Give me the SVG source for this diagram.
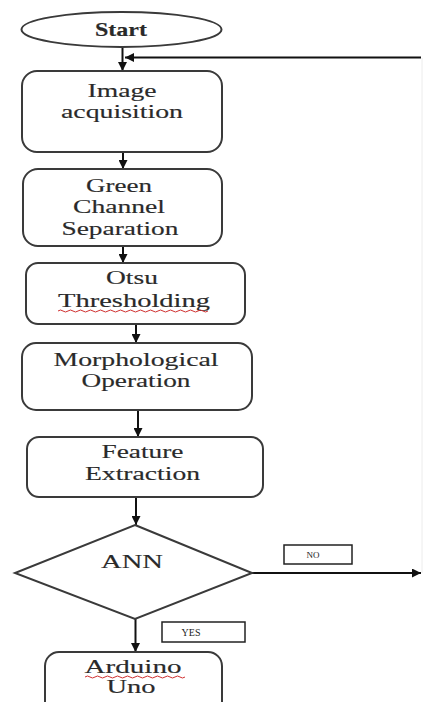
<svg xmlns="http://www.w3.org/2000/svg" width="423" height="702" viewBox="0 0 423 702">
<defs>
<marker id="ah2" viewBox="0 0 10 10" refX="10" refY="5" markerWidth="9" markerHeight="9" orient="auto" markerUnits="userSpaceOnUse"><path d="M0,0 L10,5 L0,10 z" fill="#111"/></marker>
</defs>
<style>
.b{fill:#fff;stroke:#3a3a3a;stroke-width:2}
.t{font-family:"Liberation Serif","Times New Roman",serif;font-size:19px;fill:#2a2a2a;text-anchor:middle;stroke:#2a2a2a;stroke-width:0.15}
.s{font-family:"Liberation Serif","Times New Roman",serif;fill:#222;text-anchor:middle}
.c{fill:none;stroke:#111;stroke-width:2}
.w{fill:none;stroke:#d03030;stroke-width:1}
</style>
<rect width="423" height="702" fill="#fff"/>
<g id="connectors">
<line class="c" x1="122.5" y1="47" x2="122.5" y2="71" marker-end="url(#ah2)"/>
<line class="c" x1="421" y1="57.5" x2="125" y2="57.5" marker-end="url(#ah2)"/>
<line x1="422" y1="58" x2="422" y2="573" stroke="#ececec" stroke-width="1"/>
<line class="c" x1="123" y1="152" x2="123" y2="169" marker-end="url(#ah2)"/>
<line class="c" x1="123" y1="246" x2="123" y2="263" marker-end="url(#ah2)"/>
<line class="c" x1="136" y1="324" x2="136" y2="343" marker-end="url(#ah2)"/>
<line class="c" x1="138" y1="410" x2="138" y2="437" marker-end="url(#ah2)"/>
<line class="c" x1="136" y1="497" x2="136" y2="525" marker-end="url(#ah2)"/>
<line class="c" x1="252" y1="573" x2="421" y2="573" marker-end="url(#ah2)"/>
<line class="c" x1="135.5" y1="619" x2="135.5" y2="652" marker-end="url(#ah2)"/>
</g>
<g id="start">
<ellipse class="b" cx="121.5" cy="29.5" rx="100" ry="17.5"/>
<text class="t" x="121" y="36" font-weight="bold" textLength="52" lengthAdjust="spacingAndGlyphs">Start</text>
</g>
<g id="image-acquisition">
<rect class="b" x="22" y="71" width="200" height="81" rx="15"/>
<text class="t" x="122" y="97" textLength="69" lengthAdjust="spacingAndGlyphs">Image</text>
<text class="t" x="122" y="118" textLength="122" lengthAdjust="spacingAndGlyphs">acquisition</text>
</g>
<g id="green-channel">
<rect class="b" x="23" y="169" width="199" height="77" rx="15"/>
<text class="t" x="119" y="192" textLength="66" lengthAdjust="spacingAndGlyphs">Green</text>
<text class="t" x="119" y="213" textLength="92" lengthAdjust="spacingAndGlyphs">Channel</text>
<text class="t" x="120" y="235" textLength="117" lengthAdjust="spacingAndGlyphs">Separation</text>
</g>
<g id="otsu">
<rect class="b" x="26" y="263" width="219" height="61" rx="12"/>
<text class="t" x="132" y="284" textLength="52" lengthAdjust="spacingAndGlyphs">Otsu</text>
<text class="t" x="134" y="307" textLength="152" lengthAdjust="spacingAndGlyphs">Thresholding</text>
<path class="w" d="M58 311 q2.5 -2 5 0 t5 0 t5 0 t5 0 t5 0 t5 0 t5 0 t5 0 t5 0 t5 0 t5 0 t5 0 t5 0 t5 0 t5 0 t5 0 t5 0 t5 0 t5 0 t5 0 t5 0 t5 0 t5 0 t5 0 t5 0 t5 0 t5 0 t5 0 t5 0 t5 0"/>
</g>
<g id="morphological">
<rect class="b" x="22" y="343" width="230" height="67" rx="14"/>
<text class="t" x="136" y="366" textLength="165" lengthAdjust="spacingAndGlyphs">Morphological</text>
<text class="t" x="136" y="387" textLength="109" lengthAdjust="spacingAndGlyphs">Operation</text>
</g>
<g id="feature-extraction">
<rect class="b" x="27" y="437" width="236" height="60" rx="12"/>
<text class="t" x="142.5" y="458" textLength="82" lengthAdjust="spacingAndGlyphs">Feature</text>
<text class="t" x="142.5" y="480" textLength="115" lengthAdjust="spacingAndGlyphs">Extraction</text>
</g>
<g id="ann">
<polygon class="b" points="135,525 252,573 135,619 15,573"/>
<text class="t" x="132" y="568" textLength="62" lengthAdjust="spacingAndGlyphs">ANN</text>
</g>
<g id="no-label">
<rect x="284" y="545" width="68" height="19" fill="#fff" stroke="#222" stroke-width="1.5"/>
<text class="s" x="313" y="558" font-size="9">NO</text>
</g>
<g id="yes-label">
<rect x="162" y="622" width="83" height="20" fill="#fff" stroke="#222" stroke-width="1.5"/>
<text class="s" x="191" y="636" font-size="10">YES</text>
</g>
<g id="arduino">
<rect class="b" x="45" y="652" width="177" height="64" rx="14"/>
<text class="t" x="133" y="673" textLength="97" lengthAdjust="spacingAndGlyphs">Arduino</text>
<path class="w" d="M85 677 q2.5 -2 5 0 t5 0 t5 0 t5 0 t5 0 t5 0 t5 0 t5 0 t5 0 t5 0 t5 0 t5 0 t5 0 t5 0 t5 0 t5 0 t5 0 t5 0 t5 0 t5 0"/>
<text class="t" x="131" y="693" textLength="49" lengthAdjust="spacingAndGlyphs">Uno</text>
</g>
</svg>
